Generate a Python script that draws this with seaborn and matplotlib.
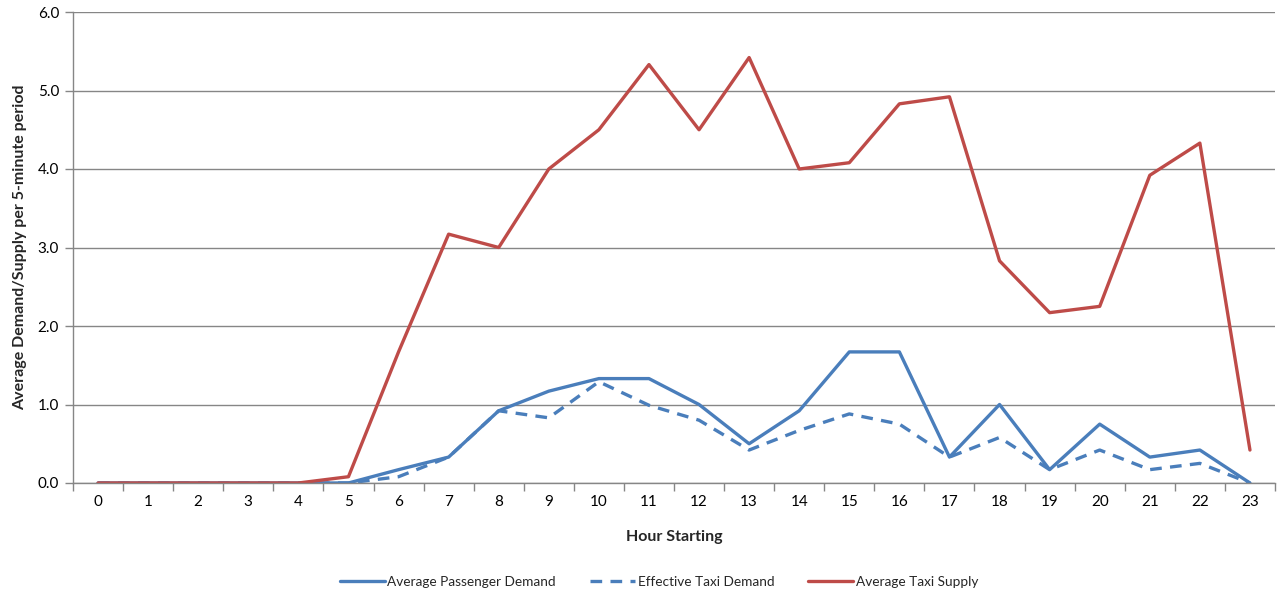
import matplotlib
matplotlib.use("Agg")
import matplotlib.pyplot as plt
import seaborn as sns
import numpy as np
import pandas as pd
from matplotlib.ticker import FixedLocator, NullFormatter

hours = list(range(24))
passenger_demand = [0, 0, 0, 0, 0, 0, 0.17, 0.33, 0.92, 1.17, 1.33, 1.33, 1.0, 0.5,
                    0.92, 1.67, 1.67, 0.33, 1.0, 0.17, 0.75, 0.33, 0.42, 0]
effective_demand = [0, 0, 0, 0, 0, 0, 0.08, 0.33, 0.92, 0.83, 1.29, 0.99, 0.8, 0.42,
                    0.67, 0.88, 0.75, 0.33, 0.58, 0.17, 0.42, 0.17, 0.25, 0]
taxi_supply = [0, 0, 0, 0, 0, 0.08, 1.67, 3.17, 3.0, 4.0, 4.5, 5.33, 4.5, 5.42,
               4.0, 4.08, 4.83, 4.92, 2.83, 2.17, 2.25, 3.92, 4.33, 0.42]
series_names = ["Average Passenger Demand", "Effective Taxi Demand", "Average Taxi Supply"]
y_ticks = [0, 1, 2, 3, 4, 5, 6]

sns.set_theme(style="white")
plt.rcParams['font.family'] = ['Lato', 'DejaVu Sans']

blue = "#4A7EBB"
red = "#BE4B48"
grid_c = "#868686"

fig = plt.figure(figsize=(12.79, 5.96), dpi=100)
ax = fig.add_axes([73/1279, 1-483/596, (1275-73)/1279, (483-12)/596])

df = pd.DataFrame({"hour": hours, "pd": passenger_demand, "ed": effective_demand, "ts": taxi_supply})
sns.lineplot(data=df, x="hour", y="pd", ax=ax, color=blue, lw=2.4, label=series_names[0])
sns.lineplot(data=df, x="hour", y="ed", ax=ax, color=blue, lw=2.4, label=series_names[1],
             dashes=False)
ax.lines[-1].set_dashes((3.5, 2.5))
sns.lineplot(data=df, x="hour", y="ts", ax=ax, color=red, lw=2.4, label=series_names[2])

ax.set_xlim(-0.5, 23.5)
ax.set_ylim(0, 6)
ax.set_yticks(y_ticks)
ax.set_yticklabels([f"{v:.1f}" for v in y_ticks])
ax.yaxis.grid(True, color=grid_c, lw=1)
ax.set_axisbelow(True)

ax.xaxis.set_major_locator(FixedLocator(np.arange(-0.5, 24, 1)))
ax.xaxis.set_major_formatter(NullFormatter())
ax.xaxis.set_minor_locator(FixedLocator(hours))
ax.set_xticklabels([str(h) for h in hours], minor=True)
ax.tick_params(axis="x", which="major", length=6, width=1, color=grid_c, direction="out", bottom=True)
ax.tick_params(axis="x", which="minor", length=0, labelsize=11, pad=9, colors="black")
ax.tick_params(axis="y", length=6, width=1, color=grid_c, direction="out", left=True, labelsize=11, pad=4)
for lbl in ax.get_yticklabels():
    lbl.set_color("black")

for s in ["top", "right"]:
    ax.spines[s].set_visible(False)
for s in ["left", "bottom"]:
    ax.spines[s].set_color(grid_c)
    ax.spines[s].set_linewidth(1)

ax.set_xlabel("Hour Starting", fontsize=11.5, fontweight="bold", labelpad=15)
ax.set_ylabel("Average Demand/Supply per 5-minute period", fontsize=11.5, fontweight="bold", labelpad=8)

leg = ax.legend(loc="center", bbox_to_anchor=(659/1279, (596-582)/596), bbox_transform=fig.transFigure,
                ncol=3, frameon=False, fontsize=9.8, handlelength=3.3, columnspacing=2.5, handletextpad=0.2)

fig.savefig("out.png", dpi=100)
